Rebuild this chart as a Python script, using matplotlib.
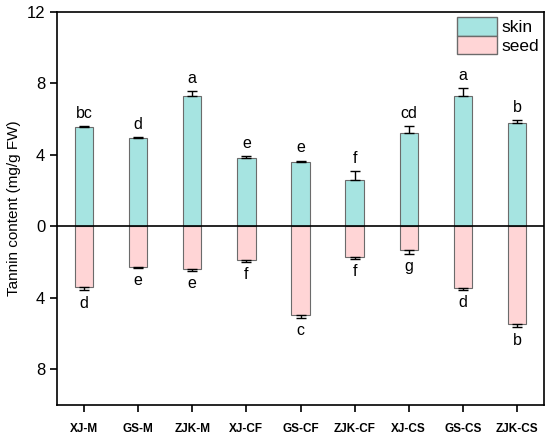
import matplotlib.pyplot as plt
import numpy as np
from matplotlib.patches import Patch

plt.rcParams["font.family"] = ["Liberation Sans", "DejaVu Sans"]

groups = ["XJ-M", "GS-M", "ZJK-M", "XJ-CF", "GS-CF", "ZJK-CF", "XJ-CS", "GS-CS", "ZJK-CS"]
skin = [5.55, 4.97, 7.30, 3.85, 3.60, 2.57, 5.23, 7.28, 5.81]
skin_err = [0.05, 0.03, 0.28, 0.07, 0.08, 0.52, 0.39, 0.46, 0.15]
skin_letters = ["bc", "d", "a", "e", "e", "f", "cd", "a", "b"]
seed = [3.39, 2.29, 2.40, 1.90, 4.97, 1.70, 1.32, 3.43, 5.44]
seed_err = [0.19, 0.03, 0.08, 0.08, 0.15, 0.10, 0.20, 0.12, 0.22]
seed_letters = ["d", "e", "e", "f", "c", "f", "g", "d", "b"]

skin_color = "#a6e4e1"
seed_color = "#ffd5d6"

fig = plt.figure(figsize=(5.5, 4.37), dpi=100)
ax = fig.add_axes([57/550, 1 - 405/437, 487/550, 393/437])

x = np.arange(len(groups))
w = 0.34
neg_seed = [-v for v in seed]
ax.bar(x, skin, w, color=skin_color, edgecolor="#6b6b6b", linewidth=0.8)
ax.bar(x, neg_seed, w, color=seed_color, edgecolor="#6b6b6b", linewidth=0.8)
ax.errorbar(x, skin, yerr=[np.zeros(len(x)), skin_err], fmt="none",
            ecolor="black", elinewidth=1, capsize=3.5, capthick=1)
ax.errorbar(x, neg_seed, yerr=[seed_err, np.zeros(len(x))], fmt="none",
            ecolor="black", elinewidth=1, capsize=3.5, capthick=1)

for i in range(len(x)):
    ax.text(x[i], skin[i] + skin_err[i] + 0.3, skin_letters[i],
            ha="center", va="bottom", fontsize=11.5)
    ax.text(x[i], -seed[i] - seed_err[i] - 0.3, seed_letters[i],
            ha="center", va="top", fontsize=11.5)

ax.axhline(0, color="black", linewidth=1.2)
ax.set_xlim(-0.5, 8.5)
ax.set_ylim(-10, 12)
ax.set_yticks([-8, -4, 0, 4, 8, 12])
ax.set_yticklabels(["8", "4", "0", "4", "8", "12"], fontsize=12)
ax.set_xticks(x)
ax.set_xticklabels(groups, fontsize=8.5, fontweight="bold")
ax.tick_params(axis="both", direction="out", length=5, width=1.2)
ax.tick_params(axis="x", pad=8)
for s in ax.spines.values():
    s.set_linewidth(1.2)
ax.set_ylabel("Tannin content (mg/g FW)", fontsize=11)

handles = [Patch(facecolor=skin_color, edgecolor="#6b6b6b", label="skin"),
           Patch(facecolor=seed_color, edgecolor="#6b6b6b", label="seed")]
ax.legend(handles=handles, loc="upper right", frameon=False, fontsize=12.5,
          handlelength=2.3, handleheight=1.25, labelspacing=0.0,
          handletextpad=0.25, borderaxespad=0.25, borderpad=0.05)

fig.savefig("out.png", dpi=100)
